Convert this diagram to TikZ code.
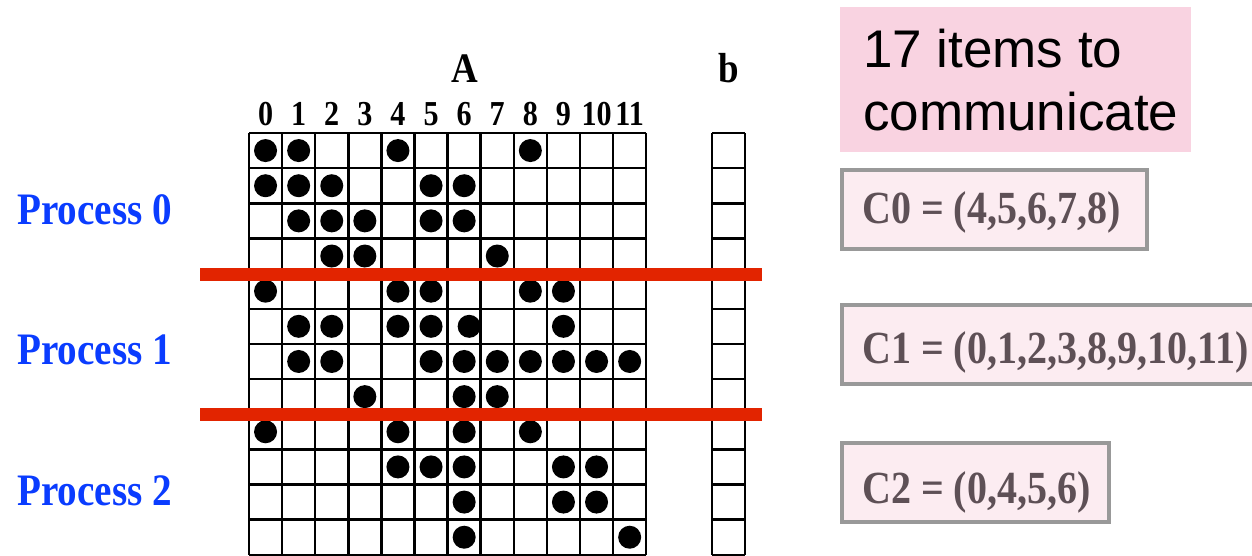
\documentclass[tikz,border=0pt]{standalone}
\usepackage{fontspec}
\setmainfont{Liberation Serif}
\newfontfamily\arialf{Liberation Sans}
\definecolor{procblue}{HTML}{0A3CFF}
\definecolor{cpink}{HTML}{FCECF1}
\definecolor{cgray}{HTML}{999999}
\definecolor{ctextc}{HTML}{5E5056}
\definecolor{toppink}{HTML}{F9D3E1}
\definecolor{sepred}{HTML}{E22400}
\tikzset{
  gridline/.style={line width=2.5pt, draw=black},
  dot/.style={circle, fill=black, minimum size=23pt, inner sep=0pt},
  colnum/.style={font=\fontsize{35}{35}\selectfont\bfseries, anchor=base, inner sep=0pt},
  biglabel/.style={font=\fontsize{42}{42}\selectfont\bfseries, anchor=base, inner sep=0pt},
  proc/.style={font=\fontsize{45}{45}\selectfont\bfseries, text=procblue, anchor=base west, inner sep=0pt},
  cbox/.style={draw=cgray, fill=cpink, line width=4pt},
  ctext/.style={font=\fontsize{46}{46}\selectfont\bfseries, text=ctextc, anchor=base west, inner sep=0pt},
  sepline/.style={line width=13pt, draw=sepred},
  topbox/.style={fill=toppink},
  toptext/.style={font=\arialf\fontsize{53}{53}\selectfont, anchor=base west, inner sep=0pt},
}
\begin{document}
\begin{tikzpicture}[x=1pt,y=1pt]
\useasboundingbox (0,0) rectangle (1252,-556);
% grid of A
\foreach \i in {0,...,12} {
  \draw[gridline] ({249+33.1*\i},-133) -- ({249+33.1*\i},-555);
}
\foreach \j in {0,...,12} {
  \draw[gridline] (249,{-133-35.15*\j}) -- (646.2,{-133-35.15*\j});
}
% column b
\foreach \j in {0,...,12} {
  \draw[gridline] (712,{-133-35.15*\j}) -- (745,{-133-35.15*\j});
}
\draw[gridline] (712,-133) -- (712,-555);
\draw[gridline] (745,-133) -- (745,-555);
% column numbers
\foreach \c in {0,...,11} {
  \node[colnum] (n\c) at ({249+33.1*(\c+0.5)},-126) {\scalebox{0.86}[1]{\c}};
}
\node[biglabel] (labA) at (465,-83) {\scalebox{0.88}[1]{A}};
\node[biglabel] (labb) at (729,-83) {\scalebox{0.88}[1]{b}};
% dots
\foreach \r/\c in {0/0,0/1,0/4,0/8,
  1/0,1/1,1/2,1/5,1/6,
  2/1,2/2,2/3,2/5,2/6,
  3/2,3/3,3/7,
  4/0,4/4,4/5,4/8,4/9,
  5/1,5/2,5/4,5/5,5/9,
  6/1,6/2,6/5,6/6,6/7,6/8,6/9,6/10,6/11,
  7/3,7/6,7/7,
  8/0,8/4,8/6,8/8,
  9/4,9/5,9/6,9/9,9/10,
  10/6,10/9,10/10,
  11/6,11/11} {
  \node[dot] (d\r-\c) at ({249+33.1*(\c+0.5)},{-133-35.15*(\r+0.5)}) {};
}
\node[dot] (d5-6) at ({249+33.1*6.5+5},{-133-35.15*5.5}) {};
% separators
\draw[sepline] (200,-274) -- (762,-274);
\draw[sepline] (200,-414) -- (762,-414);
% process labels
\node[proc] (p0) at (17,-224) {\scalebox{0.87}[1]{Process 0}};
\node[proc] (p1) at (17,-364) {\scalebox{0.87}[1]{Process 1}};
\node[proc] (p2) at (17,-505) {\scalebox{0.87}[1]{Process 2}};
% top box
\fill[topbox] (840,-7) rectangle (1191,-152);
\node[toptext] (t1) at (863,-68) {17 items to};
\node[toptext] (t2) at (863,-131) {communicate};
% C boxes
\draw[cbox] (842,-170) rectangle (1147,-249);
\node[ctext] (c0) at (862,-223) {\scalebox{0.87}[1]{C0 = (4,5,6,7,8)}};
\draw[cbox] (842,-305) rectangle (1262,-384);
\node[ctext] (c1) at (862,-363) {\scalebox{0.87}[1]{C1 = (0,1,2,3,8,9,10,11)}};
\draw[cbox] (842,-443) rectangle (1109,-522);
\node[ctext] (c2) at (862,-503) {\scalebox{0.87}[1]{C2 = (0,4,5,6)}};
\end{tikzpicture}
\end{document}
